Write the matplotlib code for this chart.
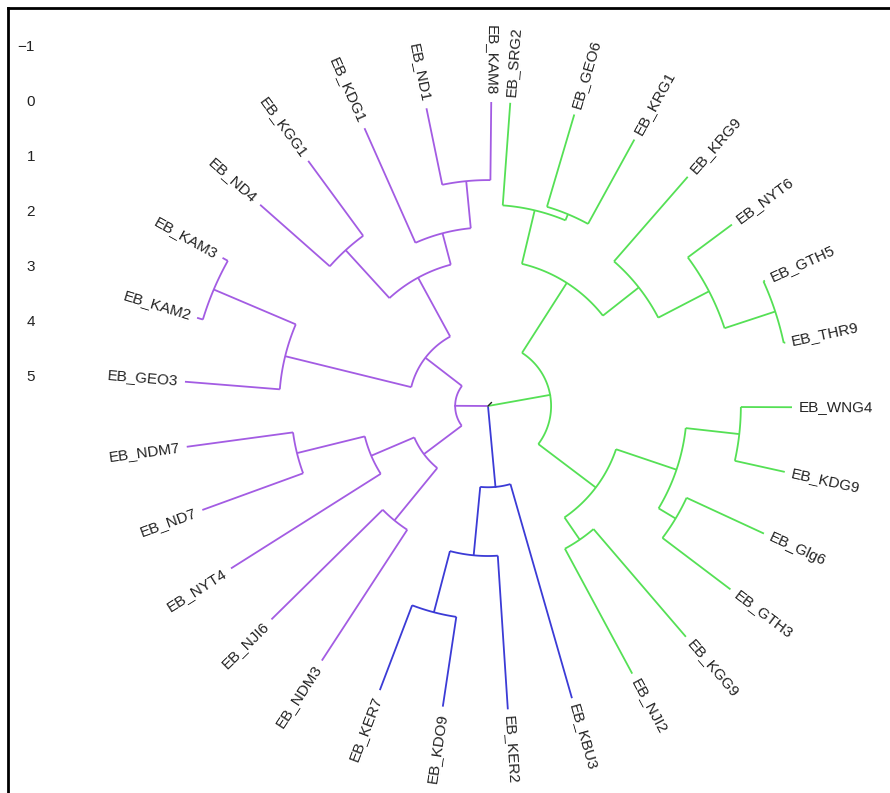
import numpy as np
import matplotlib.pyplot as plt
from matplotlib.lines import Line2D

plt.rcParams['font.family'] = ['Liberation Sans', 'DejaVu Sans']

# leaves, clockwise from the top
leaves = ["EB_SRG2", "EB_GEO6", "EB_KRG1", "EB_KRG9", "EB_NYT6", "EB_GTH5",
          "EB_THR9", "EB_WNG4", "EB_KDG9", "EB_Glg6", "EB_GTH3", "EB_KGG9",
          "EB_NJI2", "EB_KBU3", "EB_KER2", "EB_KDO9", "EB_KER7", "EB_NDM3",
          "EB_NJI6", "EB_NYT4", "EB_ND7", "EB_NDM7", "EB_GEO3", "EB_KAM2",
          "EB_KAM3", "EB_ND4", "EB_KGG1", "EB_KDG1", "EB_ND1", "EB_KAM8"]
leaf_group = ["g"] * 13 + ["b"] * 4 + ["p"] * 13

# merges: (node, child a, child b, height)
merges = [
    ("p1", "EB_KAM2", "EB_KAM3", 0.11),
    ("p2", "EB_GEO3", "p1", 1.73),
    ("p3", "EB_ND4", "EB_KGG1", 1.69),
    ("p4", "EB_ND1", "EB_KAM8", 1.42),
    ("p5", "EB_KDG1", "p4", 2.28),
    ("p6", "p3", "p5", 2.87),
    ("p7", "p2", "p6", 4.09),
    ("p8", "EB_ND7", "EB_NDM7", 1.95),
    ("p9", "EB_NYT4", "p8", 3.22),
    ("p10", "EB_NDM3", "EB_NJI6", 2.84),
    ("p11", "p10", "p9", 4.07),
    ("p12", "p11", "p7", 4.93),
    ("b1", "EB_KDO9", "EB_KER7", 1.65),
    ("b2", "EB_KER2", "b1", 2.80),
    ("b3", "EB_KBU3", "b2", 4.05),
    ("g1", "EB_GEO6", "EB_KRG1", 1.75),
    ("g2", "EB_SRG2", "g1", 1.87),
    ("g3", "EB_GTH5", "EB_THR9", 0.03),
    ("g4", "EB_NYT6", "g3", 1.00),
    ("g5", "EB_KRG9", "g4", 2.04),
    ("g6", "g2", "g5", 2.87),
    ("g7", "EB_WNG4", "EB_KDG9", 0.93),
    ("g8", "EB_Glg6", "EB_GTH3", 1.55),
    ("g9", "g7", "g8", 1.91),
    ("g10", "EB_KGG9", "EB_NJI2", 2.58),
    ("g11", "g9", "g10", 3.07),
    ("g12", "g6", "g11", 4.38),
]
root_children = ["g12", "b3", "p12"]
root_height = 5.5

height_ticks = [-1, 0, 1, 2, 3, 4, 5]

colors = {"p": "#a35ce3", "g": "#55e055", "b": "#3b3bd6"}

R0 = 304 / 55.0      # radius of the leaves
start, step = 4.2, 12.29

angle, radius, group = {}, {}, {}
for i, name in enumerate(leaves):
    angle[name] = start + i * step
    radius[name] = R0
    group[name] = leaf_group[i]


def polar(r, th):
    t = np.radians(th)
    return r * np.sin(t), r * np.cos(t)


fig = plt.figure(figsize=(8.9, 7.93), dpi=100)
ax = fig.add_axes([0, 0, 1, 1])
ax.set_xlim(-488 / 55, 402 / 55)
ax.set_ylim(-387 / 55, 406 / 55)
ax.axis('off')

lw = 1.3


def draw_node(r, kids, arc_color):
    lo = min(angle[k] for k in kids)
    hi = max(angle[k] for k in kids)
    th = np.linspace(lo, hi, 80)
    x, y = polar(r, th)
    ax.plot(x, y, color=arc_color, lw=lw, solid_capstyle='butt')
    for k in kids:
        x, y = polar(np.array([r, radius[k]]), angle[k])
        ax.plot(x, y, color=colors[group[k]], lw=lw, solid_capstyle='butt')


for name, a, b, h in merges:
    angle[name] = (angle[a] + angle[b]) / 2
    radius[name] = R0 - h
    group[name] = group[a]
    draw_node(radius[name], [a, b], colors[group[a]])

r_root = R0 - root_height
for k in root_children:
    x, y = polar(np.array([r_root, radius[k]]), angle[k])
    ax.plot(x, y, color=colors[group[k]], lw=lw)
ax.plot(*polar(np.array([0.0, r_root + 0.06]), 45), color="#222222", lw=1)

# leaf labels
for name in leaves:
    th = angle[name]
    x, y = polar(R0 + 0.12, th)
    if th < 180:
        rot, ha = 90 - th, 'left'
    else:
        rot, ha = 270 - th, 'right'
    ax.text(x, y, name, rotation=rot, ha=ha, va='center',
            rotation_mode='anchor', fontsize=11, color="#222222")

# height scale on the left
for v in height_ticks:
    ax.text((35 - 488) / 55, R0 - v, str(v).replace('-', '\u2212'),
            ha='right', va='center', fontsize=11, color="#222222")

# frame lines (top and left)
fig.add_artist(Line2D([8 / 890, 1], [1 - 8 / 793, 1 - 8 / 793],
                      transform=fig.transFigure, color='black', lw=2))
fig.add_artist(Line2D([8 / 890, 8 / 890], [0, 1 - 8 / 793],
                      transform=fig.transFigure, color='black', lw=2))

fig.savefig("out.png", dpi=100)
